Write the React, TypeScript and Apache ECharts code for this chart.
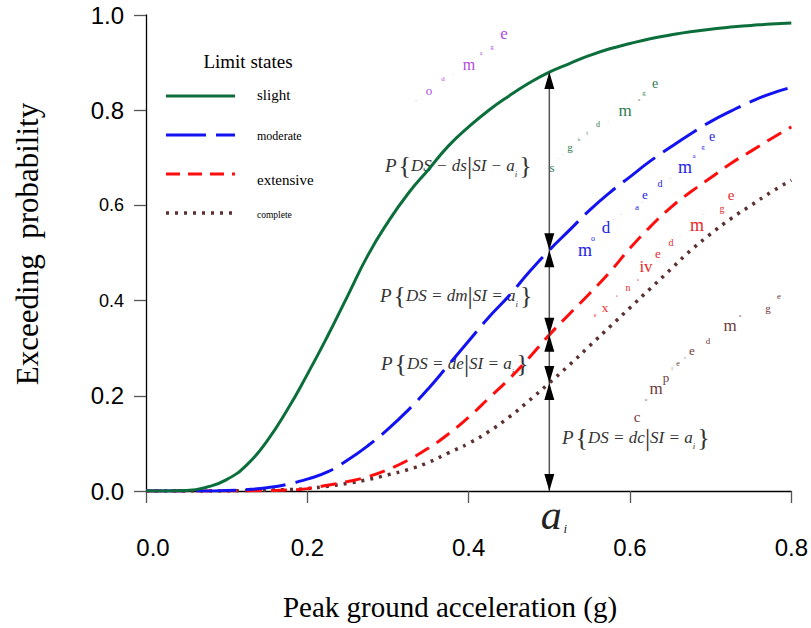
import React, { useEffect, useRef } from "react";
import * as echarts from "echarts";

// ---------- data ----------
const pga = [
  0, 0.025, 0.05, 0.075, 0.1, 0.125, 0.15, 0.175, 0.2, 0.225, 0.25, 0.275, 0.3, 0.325, 0.35, 0.375, 0.4,
  0.425, 0.45, 0.475, 0.5, 0.525, 0.55, 0.575, 0.6, 0.625, 0.65, 0.675, 0.7, 0.725, 0.75, 0.775, 0.8,
];
const slight = [
  0, 0, 0.001, 0.008, 0.024, 0.055, 0.105, 0.17, 0.245, 0.325, 0.41, 0.495, 0.565, 0.625, 0.675, 0.725, 0.765,
  0.8, 0.83, 0.857, 0.88, 0.898, 0.915, 0.929, 0.94, 0.95, 0.958, 0.965, 0.97, 0.975, 0.978, 0.981, 0.983,
];
const moderate = [
  0, 0, 0, 0, 0.001, 0.003, 0.007, 0.014, 0.025, 0.04, 0.065, 0.095, 0.13, 0.17, 0.215, 0.265, 0.315,
  0.365, 0.41, 0.46, 0.506, 0.548, 0.59, 0.627, 0.66, 0.693, 0.722, 0.75, 0.776, 0.798, 0.818, 0.835, 0.848,
];
const extensive = [
  0, 0, 0, 0, 0, 0, 0.001, 0.002, 0.005, 0.012, 0.02, 0.03, 0.045, 0.065, 0.09, 0.12, 0.155,
  0.195, 0.235, 0.28, 0.328, 0.372, 0.415, 0.46, 0.51, 0.555, 0.595, 0.628, 0.658, 0.688, 0.714, 0.74, 0.765,
];
const complete = [
  0, 0, 0, 0, 0, 0.001, 0.002, 0.003, 0.005, 0.01, 0.016, 0.024, 0.034, 0.045, 0.06, 0.08, 0.1,
  0.125, 0.155, 0.19, 0.227, 0.265, 0.305, 0.345, 0.385, 0.425, 0.465, 0.505, 0.54, 0.572, 0.6, 0.628, 0.653,
];
const seriesNames = ["slight", "moderate", "extensive", "complete"];
const xTickLabels = ["0.0", "0.2", "0.4", "0.6", "0.8"];
const yTickLabels = ["0.0", "0.2", "0.4", "0.6", "0.8", "1.0"];
const ySmallTickLabels = ["0.4", "0.6"];
const aiValue = 0.5;

// ---------- styles ----------
const SERIF = "'Liberation Serif', 'Times New Roman', serif";
const SANS = "'Liberation Sans', Arial, sans-serif";
const COLORS = ["#0b6e3b", "#1212f2", "#ff0d0d", "#5e3131"];
const DASHES: any[] = ["solid", [40, 10], [16, 9], [3, 6]];
const WIDTHS = [3, 3, 3, 3.5];
const LETTER_COLORS: Record<string, string> = {
  p: "#b048e0",
  g: "#2f7d52",
  b: "#2424e8",
  r: "#e82a2a",
  k: "#6e3b3b",
};

// curved "... damage" annotations (letter, x, y, size, colour)
const damageLetters: [string, number, number, number, string][] = [
  [".", 416, 99, 6, "p"], ["o", 429, 90, 13, "p"], ["d", 443, 79, 7, "p"], [".", 453, 73, 5, "p"],
  ["m", 469, 64, 16, "p"], ["a", 481, 53, 6, "p"], ["g", 492, 47, 7, "p"], ["e", 504, 33, 17, "p"],

  ["s", 552, 167, 13, "g"], [".", 558, 157, 5, "g"], [".", 562, 153, 5, "g"], ["g", 570, 147, 11, "g"],
  ["h", 579, 139, 5, "g"], ["t", 587, 133, 6, "g"], ["d", 598, 124, 8, "g"], [".", 608, 120, 5, "g"],
  ["m", 625, 110, 17, "g"], ["a", 639, 99, 5, "g"], ["g", 644, 93, 7, "g"], ["e", 655, 83, 14, "g"],

  ["m", 585, 250, 18, "b"], ["o", 593, 238, 8, "b"], ["d", 606, 227, 17, "b"], [".", 613, 218, 5, "b"],
  [".", 621, 213, 5, "b"], ["a", 637, 207, 9, "b"], [".", 642, 201, 5, "b"], ["e", 645, 194, 13, "b"],
  ["d", 660, 183, 10, "b"], [".", 670, 177, 5, "b"], ["m", 685, 167, 18, "b"], ["a", 694, 156, 7, "b"],
  ["g", 703, 147, 7, "b"], ["e", 712, 136, 14, "b"],

  ["e", 595, 315, 6, "r"], ["x", 605, 307, 13, "r"], ["e", 617, 295, 5, "r"], ["n", 628, 287, 10, "r"],
  ["s", 638, 279, 5, "r"], ["iv", 646, 266, 17, "r"], ["e", 658, 253, 13, "r"], ["d", 671, 242, 10, "r"],
  [".", 680, 235, 5, "r"], ["m", 697, 225, 18, "r"], [".", 703, 213, 5, "r"], ["g", 722, 208, 10, "r"],
  ["e", 731, 195, 15, "r"],

  ["c", 637, 417, 15, "k"], ["o", 646, 399, 5, "k"], ["m", 656, 388, 17, "k"], ["p", 666, 377, 13, "k"],
  ["l", 672, 368, 4, "k"], ["e", 678, 363, 8, "k"], ["t", 685, 357, 4, "k"], ["e", 692, 350, 13, "k"],
  ["d", 708, 341, 9, "k"], [".", 725, 333, 5, "k"], ["m", 730, 325, 17, "k"], ["a", 740, 315, 5, "k"],
  ["g", 768, 308, 11, "k"], ["e", 779, 296, 9, "k"],
];

// probability formula labels: [left x, centre y, middle text, sign]
const formulas: [number, number, string, string][] = [
  [385, 165, "DS \u2212 ds", "\u2212"],
  [380, 295, "DS = dm", "="],
  [381, 363, "DS = de", "="],
  [562, 437, "DS = dc", "="],
];

const legendRows: [number, number, number][] = [
  // y of line, y of text, font size
  [96, 95, 15],
  [135, 136, 12],
  [174, 180, 15],
  [213, 215, 9.5],
];

export default function App() {
  const ref = useRef<HTMLDivElement>(null);

  useEffect(() => {
    document.body.style.margin = "0";
    const chart = echarts.init(ref.current!, null, { renderer: "svg" });
    const values = [slight, moderate, extensive, complete];

    const yLabel = (v: number) => {
      const lab = yTickLabels[Math.round(v / 0.2)] ?? v.toFixed(1);
      return ySmallTickLabels.includes(lab) ? `{s|${lab}}` : `{b|${lab}}`;
    };
    const xLabel = (v: number) => {
      const idx = Math.round(v / 0.2);
      const lab = xTickLabels[idx] ?? v.toFixed(1);
      return idx === 0 ? `{z|${lab}}` : `{b|${lab}}`;
    };

    chart.setOption({
      animation: false,
      grid: { left: 146, top: 15, right: 18, bottom: 137, containLabel: false },
      xAxis: {
        type: "value",
        min: 0,
        max: 0.8,
        interval: 0.2,
        axisLine: { lineStyle: { color: "#000", width: 1.3 } },
        axisTick: { show: true, inside: false, length: 12, lineStyle: { color: "#555", width: 1.3 } },
        splitLine: { show: false },
        axisLabel: {
          margin: 44,
          formatter: xLabel,
          rich: {
            b: { fontSize: 24, fontFamily: SANS, color: "#000" },
            z: { fontSize: 24, fontFamily: SANS, color: "#000", padding: [0, 0, 0, 14] },
          },
        },
      },
      yAxis: {
        type: "value",
        min: 0,
        max: 1,
        interval: 0.2,
        axisLine: { show: true, lineStyle: { color: "#000", width: 1.3 } },
        axisTick: { show: true, inside: false, length: 12, lineStyle: { color: "#555", width: 1.3 } },
        splitLine: { show: false },
        axisLabel: {
          margin: 22,
          formatter: yLabel,
          rich: {
            b: { fontSize: 24, fontFamily: SANS, color: "#000" },
            s: { fontSize: 18, fontFamily: SANS, color: "#000" },
          },
        },
      },
      series: seriesNames.map((name, i) => ({
        name,
        type: "line",
        data: pga.map((x, j) => [x, values[i][j]]),
        showSymbol: false,
        symbol: "none",
        smooth: 0.5,
        lineStyle: { color: COLORS[i], width: WIDTHS[i], type: DASHES[i] },
        z: 4 - i,
      })),
    });

    const px = (x: number, y: number) => chart.convertToPixel({ gridIndex: 0 }, [x, y]) as number[];
    const aiIdx = pga.indexOf(aiValue);
    const junctions = values.map((v) => px(aiValue, v[aiIdx]));
    const base = px(aiValue, 0);
    const AW = 5;
    const AL = 17;
    const up = (p: number[]) => ({
      type: "polygon",
      shape: { points: [[p[0], p[1]], [p[0] - AW, p[1] + AL], [p[0] + AW, p[1] + AL]] },
      style: { fill: "#000" },
      z: 100,
    });
    const down = (p: number[]) => ({
      type: "polygon",
      shape: { points: [[p[0], p[1]], [p[0] - AW, p[1] - AL], [p[0] + AW, p[1] - AL]] },
      style: { fill: "#000" },
      z: 100,
    });

    const graphics: any[] = [];
    // vertical double arrows at a_i
    graphics.push({
      type: "line",
      shape: { x1: junctions[0][0], y1: junctions[0][1], x2: base[0], y2: base[1] },
      style: { stroke: "#555", lineWidth: 1.5 },
      z: 99,
    });
    graphics.push(up(junctions[0]));
    for (let i = 1; i < junctions.length; i++) {
      graphics.push(down(junctions[i]));
      graphics.push(up(junctions[i]));
    }
    graphics.push(down(base));

    // a_i label
    graphics.push({
      type: "text",
      x: base[0] + 2,
      y: base[1] + 24,
      style: { text: "a", fontSize: 42, fontStyle: "italic", fontFamily: SERIF, fill: "#222", align: "center", verticalAlign: "middle" },
    });
    graphics.push({
      type: "text",
      x: base[0] + 16,
      y: base[1] + 37,
      style: { text: "i", fontSize: 13, fontStyle: "italic", fontFamily: SERIF, fill: "#222", align: "center", verticalAlign: "middle" },
    });

    // legend
    graphics.push({
      type: "text",
      x: 248,
      y: 61,
      style: { text: "Limit states", fontSize: 19, fontFamily: SERIF, fill: "#000", align: "center", verticalAlign: "middle" },
    });
    legendRows.forEach(([ly, ty, fs], i) => {
      graphics.push({
        type: "line",
        shape: { x1: 166, y1: ly, x2: 235, y2: ly },
        style: {
          stroke: COLORS[i],
          lineWidth: WIDTHS[i],
          lineDash: DASHES[i] === "solid" ? null : i === 2 ? [14, 8] : DASHES[i],
        },
      });
      graphics.push({
        type: "text",
        x: 257,
        y: ty,
        style: { text: seriesNames[i], fontSize: fs, fontFamily: SERIF, fill: "#000", align: "left", verticalAlign: "middle" },
      });
    });

    // formula labels
    formulas.forEach(([fx, fy, mid, sign]) => {
      graphics.push({
        type: "text",
        x: fx,
        y: fy,
        style: {
          text: `{p|P}{{t|${mid}}|{t|SI ${sign} a}{s|i}}`,
          fontSize: 26,
          fontFamily: SERIF,
          fill: "#333",
          align: "left",
          verticalAlign: "middle",
          rich: {
            p: { fontSize: 19, fontStyle: "italic", fontFamily: SERIF, fill: "#333", padding: [0, 2, 0, 0] },
            t: { fontSize: 17, fontStyle: "italic", fontFamily: SERIF, fill: "#333" },
            s: { fontSize: 9, fontStyle: "italic", fontFamily: SERIF, fill: "#333", verticalAlign: "bottom", padding: [0, 2, 0, 0] },
          },
        },
      });
    });

    // scattered "damage" letters
    damageLetters.forEach(([ch, lx, ly, fs, c]) => {
      graphics.push({
        type: "text",
        x: lx,
        y: ly,
        style: { text: ch, fontSize: fs, fontFamily: SERIF, fill: LETTER_COLORS[c], align: "center", verticalAlign: "middle" },
      });
    });

    // axis names
    graphics.push({
      type: "text",
      x: 450,
      y: 607,
      style: { text: "Peak ground acceleration (g)", fontSize: 29, fontFamily: SERIF, fill: "#000", align: "center", verticalAlign: "middle" },
    });
    graphics.push({
      type: "text",
      x: 27,
      y: 244,
      rotation: Math.PI / 2,
      style: { text: "Exceeding  probability", fontSize: 31, fontFamily: SERIF, fill: "#000", align: "center", verticalAlign: "middle" },
    });

    chart.setOption({ graphic: graphics });

    return () => chart.dispose();
  }, []);

  return <div ref={ref} style={{ width: 811, height: 628 }} />;
}
